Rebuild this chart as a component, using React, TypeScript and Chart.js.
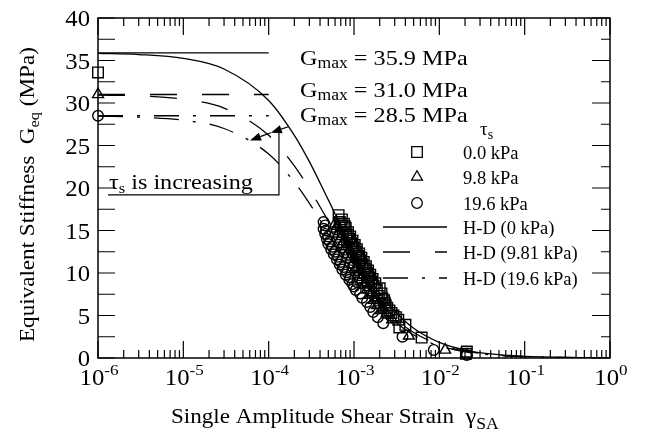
import React, { useEffect, useRef } from 'react';
import { Chart, registerables } from 'chart.js';

Chart.register(...registerables);

const FONT = '"Liberation Serif", "Times New Roman", serif';

// ---- axes ----
const xMajorTicks = [1e-6, 1e-5, 1e-4, 1e-3, 1e-2, 1e-1, 1];
const xTickExponents = ['-6', '-5', '-4', '-3', '-2', '-1', '0'];
const yMajorTicks = [0, 5, 10, 15, 20, 25, 30, 35, 40];
const yMinorTicks = [2.5, 7.5, 12.5, 17.5, 22.5, 27.5, 32.5, 37.5];

// ---- Gmax reference lines ----
const gmaxValues = [35.9, 31.0, 28.5];
const gmaxLabels = ['35.9', '31.0', '28.5'];
const gmaxLineStrain = [1e-6, 1e-4];

// ---- H-D curves ----
const curveStrain = [1e-6, 3e-6, 1e-5, 3e-5, 1e-4, 2e-4, 3e-4, 5e-4, 7e-4, 1e-3, 1.5e-3, 2e-3, 3e-3, 5e-3, 1e-2, 2e-2, 5e-2, 1e-1, 3e-1, 1];
const hd0 = [35.83, 35.7, 35.25, 34.0, 30.3, 26.2, 23.1, 18.6, 15.6, 12.6, 9.5, 7.6, 5.5, 3.5, 1.84, 0.94, 0.38, 0.19, 0.06, 0.02];
const hd981 = [30.94, 30.83, 30.44, 29.4, 26.2, 22.6, 19.9, 16.1, 13.5, 10.9, 8.2, 6.6, 4.7, 3.0, 1.59, 0.81, 0.33, 0.17, 0.06, 0.02];
const hd196 = [28.45, 28.34, 27.97, 27.0, 24.0, 20.7, 18.2, 14.7, 12.3, 9.9, 7.4, 6.0, 4.3, 2.7, 1.43, 0.73, 0.3, 0.15, 0.05, 0.015];

// ---- measured data ----
const sq0Strain = [1e-6, 6.6e-4, 7.2e-4, 7.0e-4, 7.6e-4, 8.0e-4, 7.4e-4, 8.5e-4, 9.0e-4, 8.3e-4, 9.6e-4, 1.02e-3, 9.5e-4, 1.08e-3, 1.15e-3, 1.06e-3, 1.22e-3, 1.3e-3, 1.15e-3, 1.38e-3, 1.46e-3, 1.3e-3, 1.55e-3, 1.65e-3, 1.45e-3, 1.78e-3, 2.0e-3, 2.1e-3, 2.25e-3, 2.35e-3, 2.6e-3, 2.9e-3, 3.3e-3, 3.4e-3, 4.0e-3, 6.2e-3, 2.1e-2, 2.05e-2,
  6.8e-4, 7.8e-4, 8.2e-4, 8.8e-4, 9.3e-4, 9.9e-4, 1.05e-3, 1.12e-3, 1.18e-3, 1.25e-3, 1.34e-3, 1.42e-3, 1.5e-3, 1.6e-3, 1.7e-3, 1.85e-3, 1.95e-3, 2.15e-3, 2.3e-3, 2.45e-3, 2.75e-3, 3.1e-3];
const sq0G = [33.6, 16.8, 16.3, 15.6, 15.8, 15.3, 14.8, 14.8, 14.3, 13.8, 13.8, 13.3, 12.9, 12.8, 12.3, 12.0, 11.8, 11.3, 10.8, 10.8, 10.3, 10.0, 9.8, 9.3, 9.0, 8.8, 8.2, 7.6, 6.8, 6.2, 5.6, 5.0, 4.5, 3.6, 3.9, 2.4, 0.75, 0.5,
  16.0, 15.5, 14.5, 14.0, 13.5, 13.0, 12.5, 12.0, 11.5, 11.0, 10.5, 10.0, 9.5, 9.0, 8.5, 8.0, 7.3, 7.0, 6.5, 5.9, 5.3, 4.8];

const tri98Strain = [1e-6, 6.0e-4, 6.2e-4, 6.5e-4, 6.9e-4, 7.3e-4, 7.8e-4, 8.3e-4, 8.9e-4, 9.6e-4, 1.03e-3, 1.1e-3, 1.2e-3, 1.3e-3, 1.42e-3, 1.55e-3, 1.7e-3, 1.88e-3, 2.05e-3, 2.8e-3, 4.4e-3, 1.17e-2,
  6.3e-4, 6.7e-4, 7.1e-4, 7.5e-4, 8.0e-4, 8.6e-4, 9.2e-4, 9.9e-4, 1.06e-3, 1.15e-3, 1.25e-3, 1.35e-3, 1.48e-3, 1.62e-3, 1.78e-3, 1.95e-3, 2.2e-3, 2.4e-3];
const tri98G = [31.0, 15.8, 15.2, 14.6, 14.0, 13.4, 12.8, 12.2, 11.6, 11.0, 10.4, 9.8, 9.2, 8.6, 8.0, 7.4, 6.8, 6.2, 5.6, 4.5, 2.6, 0.95,
  15.5, 14.9, 14.3, 13.7, 13.1, 12.5, 11.9, 11.3, 10.7, 10.1, 9.5, 8.9, 8.3, 7.7, 7.1, 6.5, 5.9, 5.2];

const cir196Strain = [1e-6, 4.4e-4, 4.4e-4, 4.6e-4, 4.8e-4, 5.0e-4, 5.4e-4, 5.8e-4, 6.3e-4, 6.8e-4, 7.3e-4, 8.0e-4, 8.8e-4, 1.09e-3, 1.0e-3, 1.18e-3, 1.42e-3, 1.68e-3, 2.2e-3, 3.7e-3, 8.6e-3, 2.1e-2,
  4.6e-4, 4.7e-4, 5.0e-4, 5.2e-4, 5.6e-4, 6.0e-4, 6.5e-4, 7.0e-4, 7.6e-4, 8.3e-4, 9.0e-4, 9.6e-4, 1.05e-3, 1.25e-3, 1.55e-3, 1.9e-3];
const cir196G = [28.5, 16.0, 15.2, 14.6, 14.0, 13.4, 12.8, 12.2, 11.6, 11.0, 10.4, 9.8, 9.2, 8.9, 8.4, 7.6, 6.6, 5.4, 4.1, 2.5, 0.95, 0.35,
  15.6, 15.0, 14.3, 13.7, 13.1, 12.5, 11.9, 11.3, 10.7, 10.1, 9.5, 8.7, 8.0, 7.1, 6.0, 4.8];

// ---- annotation (data coordinates) ----
const boxStrain = [1.31e-6, 1.32e-4, 1.32e-4];
const boxG = [19.2, 19.2, 26.6];
const arrowFromStrain = [1.69e-4, 1.06e-4];
const arrowFromG = [27.2, 26.5];
const arrowToStrain = [1.06e-4, 6.04e-5];
const arrowToG = [26.5, 25.6];

const legendMarkerLabels = ['0.0 kPa', '9.8 kPa', '19.6 kPa'];
const legendLineLabels = ['H-D (0 kPa)', 'H-D (9.81 kPa)', 'H-D (19.6 kPa)'];

const DASH = [27, 25];
const DASHDOT = [25, 14, 3, 14];

type Seg = [string, number, number];

function drawRich(ctx: CanvasRenderingContext2D, segs: Seg[], x: number, y: number, align: string, sx: number) {
  let total = 0;
  for (const [t, s] of segs) {
    ctx.font = `${s}px ${FONT}`;
    total += ctx.measureText(t).width * sx;
  }
  let cx = align === 'center' ? x - total / 2 : align === 'right' ? x - total : x;
  for (const [t, s, dy] of segs) {
    ctx.font = `${s}px ${FONT}`;
    const w = ctx.measureText(t).width;
    ctx.save();
    ctx.translate(cx, y + dy);
    ctx.scale(sx, 1);
    ctx.textAlign = 'left';
    ctx.textBaseline = 'alphabetic';
    ctx.fillText(t, 0, 0);
    ctx.restore();
    cx += w * sx;
  }
}

function marker(ctx: CanvasRenderingContext2D, style: string, x: number, y: number) {
  ctx.beginPath();
  if (style === 'rect') {
    ctx.rect(x - 5.3, y - 5.3, 10.6, 10.6);
  } else if (style === 'triangle') {
    const r = 6.3;
    ctx.moveTo(x, y - r);
    ctx.lineTo(x + r * Math.sin((2 * Math.PI) / 3), y - r * Math.cos((2 * Math.PI) / 3));
    ctx.lineTo(x + r * Math.sin((4 * Math.PI) / 3), y - r * Math.cos((4 * Math.PI) / 3));
    ctx.closePath();
  } else {
    ctx.arc(x, y, 5.3, 0, Math.PI * 2);
  }
  ctx.stroke();
}

function arrow(ctx: CanvasRenderingContext2D, x1: number, y1: number, x2: number, y2: number) {
  const ang = Math.atan2(y2 - y1, x2 - x1);
  const L = 11, W = 4.2;
  const bx = x2 - L * Math.cos(ang), by = y2 - L * Math.sin(ang);
  ctx.beginPath();
  ctx.moveTo(x1, y1);
  ctx.lineTo(bx, by);
  ctx.stroke();
  ctx.beginPath();
  ctx.moveTo(x2, y2);
  ctx.lineTo(bx + W * Math.sin(ang), by - W * Math.cos(ang));
  ctx.lineTo(bx - W * Math.sin(ang), by + W * Math.cos(ang));
  ctx.closePath();
  ctx.fill();
}

const overlayPlugin = {
  id: 'overlay',
  afterDatasetsDraw(chart: any) {
    const ctx: CanvasRenderingContext2D = chart.ctx;
    const a = chart.chartArea;
    const xs = chart.scales.x;
    const ys = chart.scales.y;
    ctx.save();
    ctx.strokeStyle = '#000';
    ctx.fillStyle = '#000';
    ctx.setLineDash([]);

    // frame
    ctx.lineWidth = 1.5;
    ctx.strokeRect(a.left, a.top, a.right - a.left, a.bottom - a.top);

    // ticks
    ctx.lineWidth = 1.2;
    ctx.beginPath();
    xMajorTicks.forEach((v) => {
      const px = xs.getPixelForValue(v);
      ctx.moveTo(px, a.bottom); ctx.lineTo(px, a.bottom - 17);
      ctx.moveTo(px, a.top); ctx.lineTo(px, a.top + 17);
    });
    for (let i = 0; i < xMajorTicks.length - 1; i++) {
      for (let k = 2; k <= 9; k++) {
        const px = xs.getPixelForValue(xMajorTicks[i] * k);
        ctx.moveTo(px, a.bottom); ctx.lineTo(px, a.bottom - 8);
        ctx.moveTo(px, a.top); ctx.lineTo(px, a.top + 8);
      }
    }
    yMajorTicks.forEach((v) => {
      const py = ys.getPixelForValue(v);
      ctx.moveTo(a.left, py); ctx.lineTo(a.left + 17, py);
      ctx.moveTo(a.right, py); ctx.lineTo(a.right - 18, py);
    });
    yMinorTicks.forEach((v) => {
      const py = ys.getPixelForValue(v);
      ctx.moveTo(a.left, py); ctx.lineTo(a.left + 17, py);
      ctx.moveTo(a.right, py); ctx.lineTo(a.right - 9, py);
    });
    ctx.stroke();

    // tick labels
    const SX = 1.1;
    xMajorTicks.forEach((v, i) => {
      const px = xs.getPixelForValue(v);
      drawRich(ctx, [['10', 22.5, 0], [xTickExponents[i], 15.5, -10]], px + 1, a.bottom + 27, 'center', SX);
    });
    yMajorTicks.forEach((v) => {
      const py = ys.getPixelForValue(v);
      drawRich(ctx, [[String(v), 22.5, 0]], a.left - 8, py + 8, 'right', SX);
    });

    // axis titles
    drawRich(ctx, [['Single Amplitude Shear Strain  ', 21, 0], ['\u03B3', 22, 0], ['SA', 16, 6]], 171, 423, 'left', SX);
    ctx.save();
    ctx.translate(34, 342);
    ctx.rotate(-Math.PI / 2);
    drawRich(ctx, [['Equivalent Stiffness  G', 21, 0], ['eq', 15, 5], [' (MPa)', 21, 0]], 0, 0, 'left', SX);
    ctx.restore();

    // Gmax labels
    const gY = [65, 97, 122];
    gmaxLabels.forEach((lab, i) => {
      drawRich(ctx, [['G', 22, 0], ['max', 16, 3], [' = ' + lab + ' MPa', 22, 0]], 300, gY[i], 'left', SX);
    });

    // legend
    drawRich(ctx, [['\u03C4', 19, 0], ['s', 14, 4]], 480, 135, 'left', 1);
    const mStyles = ['rect', 'triangle', 'circle'];
    const mY = [152, 177, 203];
    ctx.lineWidth = 1.3;
    mStyles.forEach((s, i) => {
      marker(ctx, s, 417, mY[i]);
      drawRich(ctx, [[legendMarkerLabels[i], 18.5, 0]], 463, mY[i] + 6.5, 'left', 1);
    });
    const lY = [227, 252, 278];
    const dashes = [[], DASH, DASHDOT];
    lY.forEach((y, i) => {
      ctx.setLineDash(dashes[i]);
      ctx.beginPath();
      ctx.moveTo(383, y); ctx.lineTo(447, y);
      ctx.stroke();
      ctx.setLineDash([]);
      drawRich(ctx, [[legendLineLabels[i], 18.5, 0]], 463, y + 6.5, 'left', 1);
    });

    // annotation box + arrows
    ctx.lineWidth = 1.2;
    ctx.beginPath();
    boxStrain.forEach((s, i) => {
      const px = xs.getPixelForValue(s), py = ys.getPixelForValue(boxG[i]);
      if (i === 0) ctx.moveTo(px, py); else ctx.lineTo(px, py);
    });
    ctx.stroke();
    arrowFromStrain.forEach((s, i) => {
      arrow(ctx, xs.getPixelForValue(s), ys.getPixelForValue(arrowFromG[i]),
        xs.getPixelForValue(arrowToStrain[i]), ys.getPixelForValue(arrowToG[i]));
    });
    drawRich(ctx, [['\u03C4', 22, 0], ['s', 15, 4], [' is increasing', 22, 0]],
      xs.getPixelForValue(boxStrain[0]) + 1, ys.getPixelForValue(boxG[0]) - 6, 'left', SX);

    ctx.restore();
  },
};

function pts(xv: number[], yv: number[]) {
  return xv.map((x, i) => ({ x, y: yv[i] }));
}

export default function App() {
  const ref = useRef<HTMLCanvasElement>(null);
  useEffect(() => {
    document.body.style.margin = '0';
    const lineDs = (label: string, xv: number[], yv: number[], dash: number[]) => ({
      type: 'line', label, data: pts(xv, yv), borderColor: '#000', borderWidth: 1.3,
      borderDash: dash, pointRadius: 0, fill: false, cubicInterpolationMode: 'monotone', showLine: true,
    });
    const ptDs = (label: string, xv: number[], yv: number[], style: string, r: number) => ({
      type: 'line', label, data: pts(xv, yv), showLine: false, pointStyle: style, pointRadius: r,
      pointBorderColor: '#000', pointBackgroundColor: 'rgba(0,0,0,0)', pointBorderWidth: 1.4,
      pointHoverRadius: r, clip: false,
    });
    const chart = new Chart(ref.current as HTMLCanvasElement, {
      type: 'line',
      data: {
        datasets: [
          lineDs('Gmax 0', gmaxLineStrain, [gmaxValues[0], gmaxValues[0]], []),
          lineDs('Gmax 9.81', gmaxLineStrain, [gmaxValues[1], gmaxValues[1]], DASH),
          lineDs('Gmax 19.6', gmaxLineStrain, [gmaxValues[2], gmaxValues[2]], DASHDOT),
          lineDs('H-D (0 kPa)', curveStrain, hd0, []),
          lineDs('H-D (9.81 kPa)', curveStrain, hd981, DASH),
          lineDs('H-D (19.6 kPa)', curveStrain, hd196, DASHDOT),
          ptDs('0.0 kPa', sq0Strain, sq0G, 'rect', 7.5),
          ptDs('9.8 kPa', tri98Strain, tri98G, 'triangle', 6.3),
          ptDs('19.6 kPa', cir196Strain, cir196G, 'circle', 5.3),
        ] as any,
      },
      options: {
        responsive: false,
        animation: false,
        events: [],
        layout: { padding: { left: 98, top: 18, right: 39, bottom: 78 } },
        plugins: { legend: { display: false }, tooltip: { enabled: false } },
        scales: {
          x: { type: 'logarithmic', min: 1e-6, max: 1, display: false },
          y: { type: 'linear', min: 0, max: 40, display: false },
        },
      } as any,
      plugins: [overlayPlugin],
    });
    return () => chart.destroy();
  }, []);
  return <canvas ref={ref} width={649} height={436} style={{ display: 'block' }} />;
}
